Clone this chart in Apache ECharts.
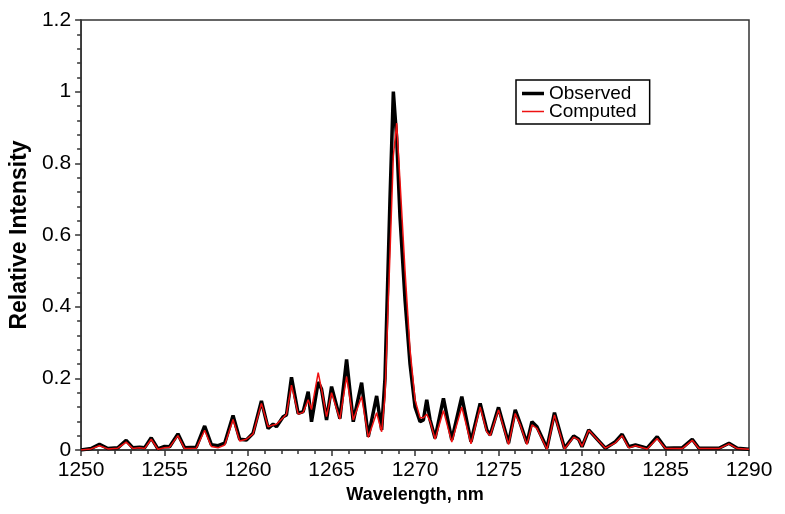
<!DOCTYPE html>
<html>
<head>
<meta charset="utf-8">
<script src="https://cdn.jsdelivr.net/npm/echarts@6/dist/echarts.min.js"></script>
<style>html,body{margin:0;padding:0;background:#fff}#c{width:785px;height:514px}</style>
</head>
<body>
<div id="c"></div>
<script>
const wavelength = [1250.0,1250.6,1251.1,1251.6,1252.2,1252.7,1253.1,1253.5,1253.8,1254.2,1254.6,1255.0,1255.3,1255.8,1256.2,1256.9,1257.4,1257.8,1258.2,1258.6,1259.1,1259.5,1259.9,1260.3,1260.8,1261.2,1261.5,1261.7,1262.1,1262.3,1262.6,1263.0,1263.3,1263.6,1263.8,1264.2,1264.4,1264.7,1265.0,1265.5,1265.9,1266.3,1266.8,1267.2,1267.7,1268.0,1268.2,1268.5,1268.7,1268.9,1269.1,1269.4,1269.7,1270.0,1270.3,1270.5,1270.7,1270.9,1271.2,1271.7,1272.2,1272.8,1273.35,1273.9,1274.3,1274.5,1275.0,1275.6,1276.0,1276.3,1276.7,1277.0,1277.3,1277.9,1278.35,1278.95,1279.5,1279.8,1280.0,1280.4,1281.4,1282.0,1282.4,1282.8,1283.2,1283.9,1284.5,1285.0,1286.0,1286.6,1287.0,1288.2,1288.8,1289.3,1290.0];
const observed = [0.000,0.004,0.016,0.004,0.006,0.027,0.006,0.008,0.006,0.034,0.003,0.010,0.009,0.045,0.006,0.008,0.067,0.015,0.012,0.019,0.096,0.030,0.028,0.047,0.137,0.060,0.072,0.065,0.093,0.098,0.203,0.102,0.107,0.163,0.079,0.190,0.170,0.084,0.177,0.088,0.253,0.079,0.188,0.037,0.151,0.056,0.200,0.700,1.000,0.870,0.650,0.420,0.240,0.120,0.079,0.084,0.140,0.084,0.033,0.144,0.028,0.149,0.023,0.130,0.056,0.042,0.119,0.019,0.112,0.074,0.019,0.079,0.065,0.005,0.104,0.005,0.039,0.030,0.009,0.056,0.005,0.023,0.044,0.009,0.014,0.005,0.037,0.005,0.006,0.030,0.005,0.005,0.019,0.005,0.002];
const computed = [0.000,0.003,0.012,0.003,0.005,0.022,0.004,0.006,0.004,0.030,0.002,0.006,0.008,0.040,0.004,0.005,0.055,0.010,0.006,0.014,0.085,0.025,0.030,0.045,0.130,0.065,0.070,0.072,0.090,0.100,0.181,0.100,0.105,0.140,0.113,0.216,0.170,0.093,0.160,0.086,0.205,0.084,0.149,0.035,0.104,0.051,0.150,0.550,0.820,0.912,0.750,0.500,0.280,0.140,0.090,0.090,0.100,0.080,0.030,0.110,0.022,0.120,0.017,0.120,0.050,0.040,0.112,0.015,0.102,0.070,0.015,0.070,0.060,0.002,0.098,0.003,0.036,0.028,0.010,0.055,0.005,0.020,0.040,0.006,0.012,0.003,0.032,0.004,0.004,0.027,0.004,0.004,0.017,0.004,0.002];
const seriesNames = ['Observed', 'Computed'];

const pair = (ys) => wavelength.map((x, i) => [x, ys[i]]);
const chart = echarts.init(document.getElementById('c'), null, {renderer: 'canvas'});
const tickFont = {fontFamily: 'Liberation Sans, Arial', fontSize: 21, color: '#000'};
chart.setOption({
  animation: false,
  backgroundColor: '#fff',
  grid: {left: 77, right: 36, top: 20, bottom: 64, show: true, borderColor: '#333', borderWidth: 1.5, backgroundColor: 'transparent'},
  legend: {
    data: [
      {name: seriesNames[0], icon: 'path://M0,0H22V3.5H0Z'},
      {name: seriesNames[1], icon: 'path://M0,1H22V2.5H0ZM0,0H0.05V3.5H0Z'}
    ],
    orient: 'vertical', left: 516, top: 80,
    borderColor: '#000', borderWidth: 1.5, padding: [4, 13, 3, 6],
    itemWidth: 22, itemHeight: 3.5, itemGap: -1,
    textStyle: {fontFamily: 'Liberation Sans, Arial', fontSize: 19, color: '#000'}
  },
  xAxis: {
    type: 'value', min: 1250, max: 1290, interval: 5,
    name: 'Wavelength, nm', nameLocation: 'middle', nameGap: 33,
    nameTextStyle: {fontFamily: 'Liberation Sans, Arial', fontWeight: 'bold', fontSize: 18, color: '#000'},
    axisLine: {lineStyle: {color: '#333', width: 1.5}},
    axisTick: {length: 6, lineStyle: {color: '#333', width: 1.5}},
    minorTick: {show: true, splitNumber: 5, length: 4, lineStyle: {color: '#333', width: 1.5}},
    axisLabel: Object.assign({margin: 10, formatter: (v) => String(v)}, tickFont),
    splitLine: {show: false}
  },
  yAxis: {
    type: 'value', min: 0, max: 1.2, interval: 0.2,
    name: 'Relative Intensity', nameLocation: 'middle', nameGap: 43,
    nameTextStyle: {fontFamily: 'Liberation Sans, Arial', fontWeight: 'bold', fontSize: 23, color: '#000'},
    axisLine: {show: true, lineStyle: {color: '#333', width: 1.5}},
    axisTick: {show: true, length: 6, lineStyle: {color: '#333', width: 1.5}},
    minorTick: {show: true, splitNumber: 5, length: 4, lineStyle: {color: '#333', width: 1.5}},
    axisLabel: Object.assign({margin: 10}, tickFont),
    splitLine: {show: false}
  },
  series: [
    {name: seriesNames[0], type: 'line', data: pair(observed), symbol: 'none', color: '#000', lineStyle: {color: '#000', width: 3.5}, z: 2},
    {name: seriesNames[1], type: 'line', data: pair(computed), symbol: 'none', color: '#ee1111', lineStyle: {color: '#ee1111', width: 1.5}, z: 3}
  ]
});
</script>
</body>
</html>
